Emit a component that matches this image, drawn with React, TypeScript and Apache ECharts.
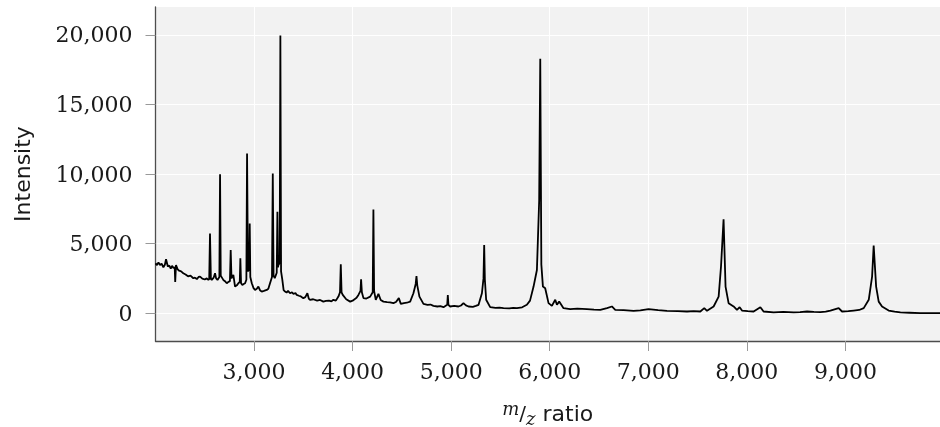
import React, { useEffect, useRef } from "react";
import * as echarts from "echarts";

const mz: number[] = [
  2000, 2015, 2030, 2046, 2062, 2080, 2095, 2107, 2125, 2140, 2155, 2168, 2182, 2195, 2200, 2208,
  2225, 2240, 2260, 2282, 2305, 2330, 2355, 2384, 2400, 2420, 2437, 2452, 2475, 2500, 2520, 2536,
  2545, 2553, 2562, 2571, 2590, 2604, 2615, 2629, 2648, 2655, 2662, 2688, 2705, 2723, 2740, 2755,
  2763, 2771, 2790, 2807, 2825, 2841, 2855, 2861, 2868, 2881, 2895, 2909, 2922, 2929, 2938, 2946,
  2952, 2956, 2962, 2977, 2995, 3010, 3028, 3044, 3060, 3078, 3100, 3129, 3145, 3162, 3182, 3190,
  3198, 3210, 3230, 3237, 3243, 3247, 3260, 3267, 3274, 3287, 3300, 3315, 3330, 3345, 3365, 3385,
  3400, 3420, 3433, 3455, 3475, 3500, 3520, 3541, 3555, 3568, 3600, 3640, 3670, 3703, 3730, 3760,
  3785, 3805, 3830, 3856, 3872, 3880, 3888, 3900, 3935, 3975, 4000, 4020, 4040, 4059, 4080, 4086,
  4094, 4110, 4140, 4178, 4204, 4211, 4218, 4235, 4262, 4285, 4313, 4350, 4380, 4414, 4440, 4469,
  4489, 4520, 4550, 4584, 4617, 4640, 4648, 4656, 4678, 4719, 4760, 4790, 4820, 4860, 4890, 4922,
  4960, 4966, 4972, 4990, 5030, 5074, 5100, 5125, 5150, 5176, 5220, 5250, 5278, 5312, 5328, 5335,
  5342, 5355, 5396, 5450, 5490, 5531, 5590, 5630, 5667, 5720, 5768, 5800, 5836, 5870, 5893, 5904,
  5915, 5931, 5954, 5988, 6022, 6056, 6073, 6096, 6140, 6208, 6280, 6378, 6450, 6513, 6581, 6631,
  6665, 6750, 6851, 6920, 7003, 7100, 7190, 7300, 7393, 7460, 7528, 7568, 7596, 7663, 7714, 7738,
  7764, 7784, 7815, 7866, 7900, 7927, 7951, 8010, 8069, 8137, 8170, 8272, 8370, 8475, 8540, 8611,
  8680, 8746, 8800, 8848, 8932, 8966, 9030, 9084, 9140, 9186, 9237, 9271, 9287, 9312, 9338, 9372,
  9439, 9500, 9558, 9650, 9761, 9860, 9960,
];

const intensity: number[] = [
  3580, 3450, 3650, 3460, 3550, 3300, 3480, 3870, 3350, 3420, 3200, 3400, 3250, 3300, 2250, 3460,
  3150, 3050, 3000, 2870, 2780, 2650, 2700, 2510, 2550, 2450, 2600, 2630, 2480, 2420, 2500, 2390,
  2450, 5730, 2450, 2390, 2550, 2870, 2500, 2390, 2600, 9990, 2700, 2390, 2300, 2150, 2250, 2300,
  4540, 2500, 2750, 1910, 2000, 2150, 2250, 3940, 2150, 2030, 2100, 2150, 2400, 11470, 3000, 3100,
  3500, 6450, 2600, 2150, 1800, 1670, 1750, 1910, 1650, 1550, 1600, 1670, 1750, 2150, 2600, 10030,
  2700, 2510, 2900, 7280, 3300, 3460, 3600, 19950, 3000, 2390, 1650, 1550, 1480, 1600, 1430, 1500,
  1380, 1450, 1310, 1250, 1200, 1080, 1150, 1430, 1050, 960, 1000, 900, 950, 830, 880, 900,
  850, 960, 900, 1190, 1500, 3510, 1500, 1310, 1000, 830, 900, 1000, 1100, 1310, 1600, 2440,
  1500, 1080, 1050, 1190, 1500, 7450, 1600, 960, 1390, 950, 830, 800, 780, 720, 800, 1080,
  670, 720, 750, 830, 1430, 2100, 2670, 2000, 1190, 670, 600, 620, 520, 480, 500, 430,
  600, 1310, 600, 480, 520, 480, 550, 720, 560, 480, 450, 520, 600, 1430, 2500, 4900,
  2400, 960, 430, 380, 400, 360, 340, 380, 360, 420, 600, 900, 1910, 3100, 8100, 18280,
  3500, 1910, 1790, 720, 520, 960, 600, 830, 360, 290, 320, 290, 260, 240, 360, 480,
  240, 220, 170, 200, 290, 220, 170, 150, 120, 150, 120, 360, 170, 480, 1190, 3350,
  6740, 1910, 720, 480, 240, 430, 190, 140, 120, 430, 120, 50, 90, 50, 80, 120,
  90, 70, 110, 190, 360, 120, 150, 190, 230, 360, 960, 2630, 4850, 1910, 830, 480,
  190, 110, 50, 30, 0, 0, 0,
];

const xTickValues: number[] = [3000, 4000, 5000, 6000, 7000, 8000, 9000];
const yTickValues: number[] = [0, 5000, 10000, 15000, 20000];

const fmt = (v: number) => Number(v).toLocaleString("en-US");

export default function App() {
  const ref = useRef<HTMLDivElement>(null);
  useEffect(() => {
    if (!ref.current) return;
    const chart = echarts.init(ref.current, undefined, { renderer: "svg" });
    const data = mz.map((m, i) => [m, intensity[i]]);
    const labelStyle = {
      fontFamily: "DejaVu Serif",
      fontSize: 22,
      color: "#1a1a1a",
      formatter: (v: number) => fmt(v),
    };
    chart.setOption({
      animation: false,
      grid: {
        left: 155.5,
        right: 0,
        top: 7,
        bottom: 86,
        show: true,
        backgroundColor: "#f2f2f2",
        borderWidth: 0,
        containLabel: false,
        outerBoundsMode: "none",
      },
      xAxis: {
        type: "value",
        min: 2000,
        max: 9960,
        name: "{it|m}{sl|/}{iz|z}{r| ratio}",
        nameLocation: "middle",
        nameGap: 58,
        nameTextStyle: {
          rich: {
            it: { fontFamily: "DejaVu Serif", fontStyle: "italic", fontSize: 18, color: "#1a1a1a", verticalAlign: "top", lineHeight: 28 },
            sl: { fontFamily: "DejaVu Sans", fontSize: 20, color: "#1a1a1a", lineHeight: 28 },
            iz: { fontFamily: "DejaVu Serif", fontStyle: "italic", fontSize: 18, color: "#1a1a1a", verticalAlign: "bottom", lineHeight: 28 },
            r: { fontFamily: "DejaVu Sans", fontSize: 22, color: "#1a1a1a", lineHeight: 28 },
          },
        },
        axisLine: { show: true, onZero: false, lineStyle: { color: "#4d4d4d", width: 1.3 } },
        axisTick: { show: true, customValues: xTickValues, length: 10, lineStyle: { color: "#999999", width: 1 } },
        axisLabel: { ...labelStyle, customValues: xTickValues, margin: 19 },
        splitLine: { show: true, lineStyle: { color: "#ffffff", width: 1 } },
      },
      yAxis: {
        type: "value",
        min: -2000,
        max: 22000,
        name: "Intensity",
        nameLocation: "middle",
        nameGap: 122,
        nameRotate: 90,
        nameTextStyle: { fontFamily: "DejaVu Sans", fontSize: 22, color: "#1a1a1a" },
        axisLine: { show: true, onZero: false, lineStyle: { color: "#4d4d4d", width: 1.3 } },
        axisTick: { show: true, customValues: yTickValues, length: 10, lineStyle: { color: "#999999", width: 1 } },
        axisLabel: { ...labelStyle, customValues: yTickValues, margin: 23 },
        splitLine: { show: true, lineStyle: { color: "#ffffff", width: 1 } },
      },
      series: [
        {
          type: "line",
          data,
          showSymbol: false,
          symbol: "none",
          lineStyle: { color: "#000000", width: 1.8 },
          z: 3,
        },
      ],
    });
    return () => chart.dispose();
  }, []);
  return (
    <div
      ref={ref}
      style={{ position: "fixed", left: 0, top: 0, width: 940, height: 427 }}
    />
  );
}
